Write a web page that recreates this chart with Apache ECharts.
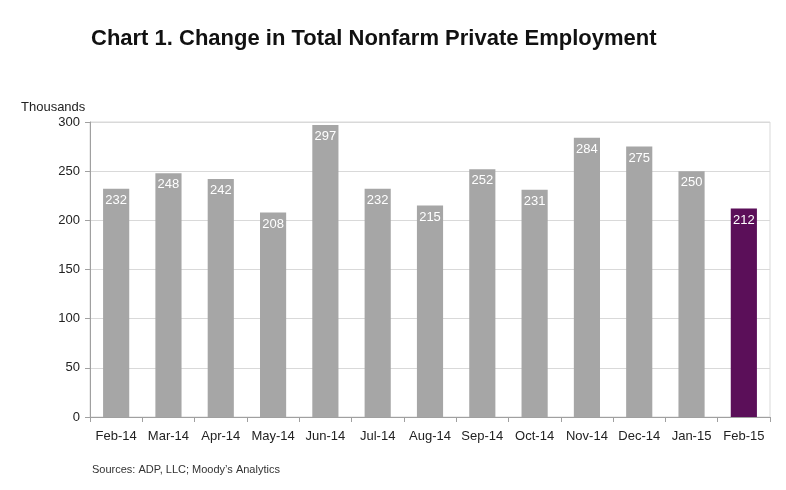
<!DOCTYPE html>
<html><head><meta charset="utf-8">
<script src="https://cdn.jsdelivr.net/npm/echarts@6/dist/echarts.min.js"></script>
<style>html,body{margin:0;padding:0;background:#fff}#c{width:786px;height:490px}</style>
</head><body><div id="c"></div>
<script>
const categories = ['Feb-14','Mar-14','Apr-14','May-14','Jun-14','Jul-14','Aug-14','Sep-14','Oct-14','Nov-14','Dec-14','Jan-15','Feb-15'];
const values = [232,248,242,208,297,232,215,252,231,284,275,250,212];
const yTicks = [0,50,100,150,200,250,300];
const chart = echarts.init(document.getElementById('c'));
const font = '"Liberation Sans", Arial, sans-serif';
chart.setOption({
  animation:false,
  textStyle:{fontFamily:font},
  title:[
    {text:'Chart 1. Change in Total Nonfarm Private Employment',left:86,top:23,textStyle:{fontSize:22,fontWeight:'bold',color:'#111',fontFamily:font}},
    {text:'Thousands',left:16,top:96,textStyle:{fontSize:13,fontWeight:'normal',color:'#222',fontFamily:font}},
    {text:'Sources: ADP, LLC; Moody\u2019s Analytics',left:87,top:459,textStyle:{fontSize:11,fontWeight:'normal',color:'#333',fontFamily:font}}
  ],
  grid:{left:90,right:16,top:122,bottom:73,show:true,borderColor:'#d9d9d9',borderWidth:1},
  xAxis:{type:'category',data:categories,boundaryGap:true,
    axisLine:{lineStyle:{color:'#a0a0a0'}},
    axisTick:{show:true,length:5,lineStyle:{color:'#a0a0a0'}},
    axisLabel:{color:'#222',fontSize:13,margin:13,interval:0}},
  yAxis:{type:'value',min:yTicks[0],max:yTicks[yTicks.length-1],interval:50,
    axisLine:{show:true,lineStyle:{color:'#a0a0a0'}},
    axisTick:{show:true,length:5,lineStyle:{color:'#a0a0a0'}},
    axisLabel:{color:'#222',fontSize:13,margin:10},
    splitLine:{lineStyle:{color:'#d9d9d9'}}},
  series:[{type:'bar',barWidth:'50%',
    data:values.map((v,i)=>({value:v,itemStyle:{color:i===values.length-1?'#5b0f59':'#a6a6a6'}})),
    label:{show:true,position:'insideTop',distance:5,color:'#fff',fontSize:13}}]
});
</script></body></html>
